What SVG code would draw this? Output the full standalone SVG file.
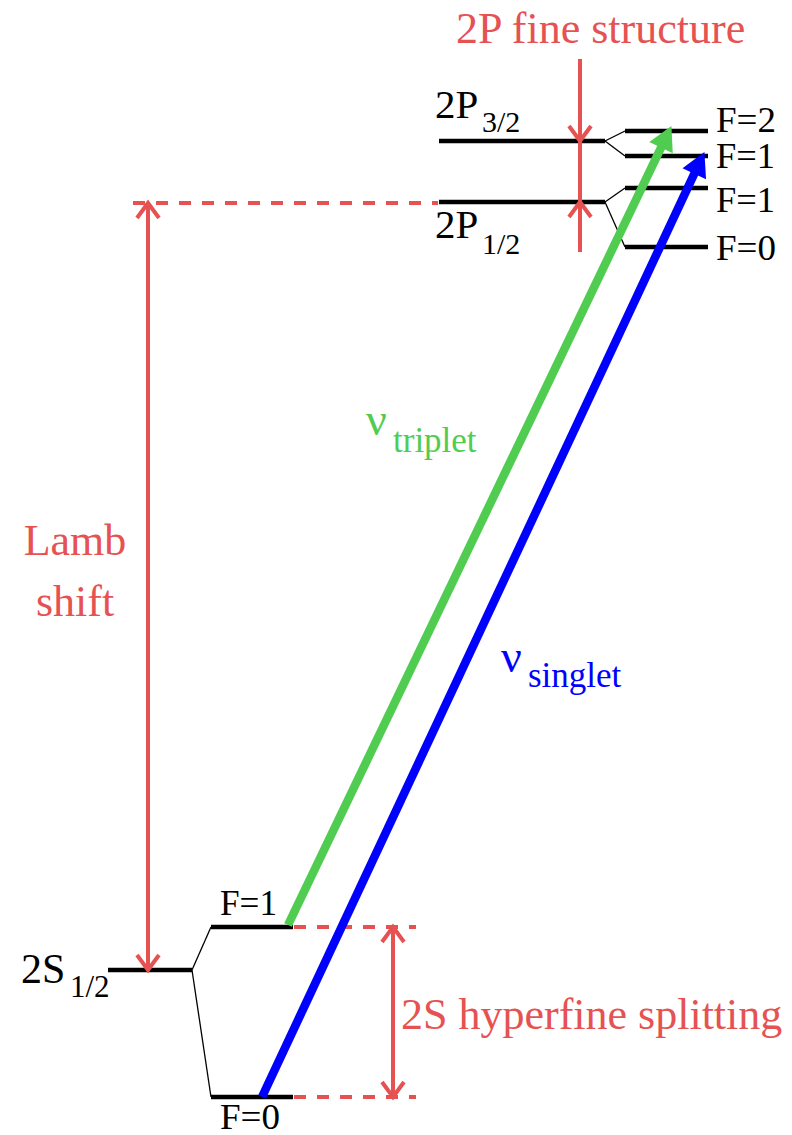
<svg xmlns="http://www.w3.org/2000/svg" width="792" height="1135" viewBox="0 0 792 1135">
<style>
.lvl{stroke:#000;stroke-width:4.5;fill:none}
.thin{stroke:#000;stroke-width:1.3;fill:none}
.red{stroke:#e65252;stroke-width:4;fill:none}
.dash{stroke:#e65252;stroke-width:4;fill:none;stroke-dasharray:12,11}
.t{font-family:"Liberation Serif","Times New Roman",serif}
.rt{font-family:"Liberation Serif","Times New Roman",serif;fill:#e65252;font-size:44px}
</style>
<defs>
<marker id="chev" markerUnits="userSpaceOnUse" markerWidth="40" markerHeight="40" viewBox="-20 -20 40 40" refX="0" refY="0" orient="auto-start-reverse" overflow="visible">
<path d="M-15,-11 L0,0 L-15,11" fill="none" stroke="#e65252" stroke-width="4"/>
</marker>
<marker id="ag" markerUnits="userSpaceOnUse" markerWidth="40" markerHeight="40" viewBox="-5 -20 40 40" refX="2" refY="0" orient="auto" overflow="visible">
<path d="M0,-13 L24,0 L0,13 Z" fill="#50cd50"/>
</marker>
<marker id="ab" markerUnits="userSpaceOnUse" markerWidth="40" markerHeight="40" viewBox="-5 -20 40 40" refX="2" refY="0" orient="auto" overflow="visible">
<path d="M0,-13 L24,0 L0,13 Z" fill="#0000ff"/>
</marker>
</defs>

<g id="level-2P32">
<line class="lvl" x1="439" y1="141" x2="605" y2="141"/>
<text class="t" x="435" y="118" font-size="41">2P<tspan x="482" font-size="30" dy="14">3/2</tspan></text>
</g>
<g id="level-2P12">
<line class="lvl" x1="439" y1="202" x2="605" y2="202"/>
<text class="t" x="435" y="238" font-size="41">2P<tspan x="482" font-size="30" dy="16">1/2</tspan></text>
</g>
<g id="hfs-2P">
<line class="thin" x1="605" y1="141" x2="625" y2="131"/>
<line class="thin" x1="605" y1="141" x2="625" y2="156"/>
<line class="thin" x1="605" y1="202" x2="625" y2="188"/>
<line class="thin" x1="605" y1="202" x2="625" y2="247"/>
</g>
<g id="level-2P32-F2">
<line class="lvl" x1="625" y1="131" x2="708" y2="131"/>
<text class="t" x="716" y="132" font-size="35" textLength="60" lengthAdjust="spacingAndGlyphs">F=2</text>
</g>
<g id="level-2P32-F1">
<line class="lvl" x1="625" y1="156" x2="708" y2="156"/>
<text class="t" x="716" y="168" font-size="35" textLength="59" lengthAdjust="spacingAndGlyphs">F=1</text>
</g>
<g id="level-2P12-F1">
<line class="lvl" x1="625" y1="188" x2="708" y2="188"/>
<text class="t" x="716" y="212" font-size="35" textLength="59" lengthAdjust="spacingAndGlyphs">F=1</text>
</g>
<g id="level-2P12-F0">
<line class="lvl" x1="625" y1="247" x2="708" y2="247"/>
<text class="t" x="716" y="260" font-size="35" textLength="60" lengthAdjust="spacingAndGlyphs">F=0</text>
</g>

<g id="level-2S12">
<line class="lvl" x1="108" y1="970" x2="192" y2="970"/>
<text class="t" x="21" y="983" font-size="42">2S<tspan x="70" font-size="31" dy="14">1/2</tspan></text>
</g>
<g id="hfs-2S">
<line class="thin" x1="192" y1="970" x2="211" y2="927"/>
<line class="thin" x1="192" y1="970" x2="211" y2="1097"/>
</g>
<g id="level-2S-F1">
<line class="lvl" x1="211" y1="927" x2="293" y2="927"/>
<text class="t" x="220" y="915" font-size="35" textLength="57" lengthAdjust="spacingAndGlyphs">F=1</text>
</g>
<g id="level-2S-F0">
<line class="lvl" x1="211" y1="1097" x2="293" y2="1097"/>
<text class="t" x="220" y="1129" font-size="35" textLength="60" lengthAdjust="spacingAndGlyphs">F=0</text>
</g>

<g id="connectors">
<line class="dash" x1="133" y1="203" x2="438" y2="203"/>
<line class="dash" x1="294" y1="927" x2="416" y2="927"/>
<line class="dash" x1="294" y1="1097" x2="416" y2="1097"/>
<path class="red" d="M148,203 V970" marker-start="url(#chev)" marker-end="url(#chev)"/>
<path class="red" d="M393,927 V1097" marker-start="url(#chev)" marker-end="url(#chev)"/>
<path class="red" d="M580,141 V202"/>
<path class="red" d="M580,59 V141" marker-end="url(#chev)"/>
<path class="red" d="M580,252 V202" marker-end="url(#chev)"/>
<line x1="288" y1="925" x2="661.9" y2="145.9" stroke="#50cd50" stroke-width="8.5" marker-end="url(#ag)"/>
<line x1="262" y1="1097" x2="695.1" y2="172" stroke="#0000ff" stroke-width="8.5" marker-end="url(#ab)"/>
</g>

<g id="labels">
<text class="rt" x="456" y="43">2P fine structure</text>
<text class="rt" x="75" y="555" text-anchor="middle">Lamb</text>
<text class="rt" x="75" y="616" text-anchor="middle">shift</text>
<text class="rt" x="401" y="1029">2S hyperfine splitting</text>
<text class="t" x="366" y="435" font-size="46" fill="#50cd50">ν<tspan x="393" font-size="35" dy="17">triplet</tspan></text>
<text class="t" x="501" y="672" font-size="46" fill="#0000ff">ν<tspan x="528" font-size="35" dy="15">singlet</tspan></text>
</g>
</svg>
